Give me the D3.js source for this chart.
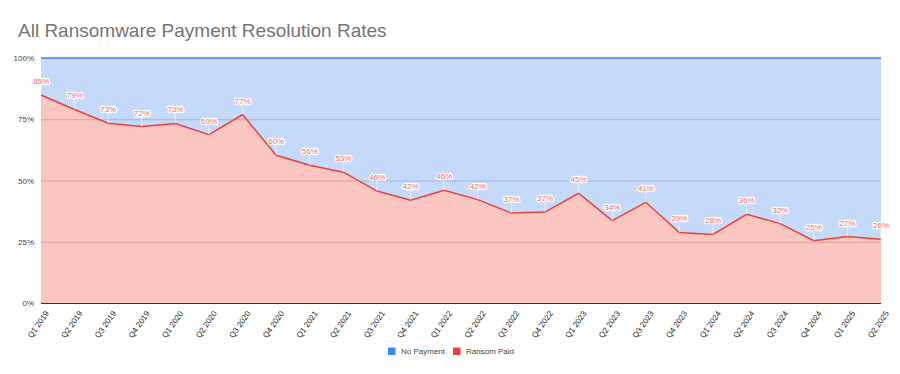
<!DOCTYPE html>
<html>
<head>
<meta charset="utf-8">
<script src="https://cdn.jsdelivr.net/npm/d3@7"></script>
<style>
  body { margin: 0; background: #fff; }
  svg { display: block; font-family: "Liberation Sans", Arial, sans-serif; }
</style>
</head>
<body>
<div id="chart"></div>
<script>
// quarters on the x axis
const quarters = [
  "Q1 2019", "Q2 2019", "Q3 2019", "Q4 2019",
  "Q1 2020", "Q2 2020", "Q3 2020", "Q4 2020",
  "Q1 2021", "Q2 2021", "Q3 2021", "Q4 2021",
  "Q1 2022", "Q2 2022", "Q3 2022", "Q4 2022",
  "Q1 2023", "Q2 2023", "Q3 2023", "Q4 2023",
  "Q1 2024", "Q2 2024", "Q3 2024", "Q4 2024",
  "Q1 2025", "Q2 2025"
];
// share of cases where the ransom was paid (%)
const ransomPaid = [
  84.9, 79.0, 73.4, 72.0, 73.3, 68.7, 76.9, 60.3,
  56.2, 53.4, 45.7, 42.0, 46.0, 42.2, 36.7, 37.1,
  44.8, 33.6, 41.1, 28.8, 28.0, 36.2, 32.4, 25.4,
  27.1, 26.0
];
// no payment = the rest up to 100%
const noPayment = ransomPaid.map(v => 100 - v);
const yTicks = [0, 25, 50, 75, 100];
const seriesNames = ["No Payment", "Ransom Paid"];
const seriesColors = ["#4285f4", "#ea4335"];

const width = 900;
const height = 374;
const marginTop = 58;
const marginRight = 19;
const marginBottom = 71;
const marginLeft = 41;

const svg = d3.select("#chart")
  .append("svg")
  .attr("width", width)
  .attr("height", height)
  .attr("viewBox", [0, 0, width, height]);

svg.append("text")
  .attr("x", 18)
  .attr("y", 37)
  .attr("fill", "#757575")
  .attr("font-size", 19)
  .text("All Ransomware Payment Resolution Rates");

const x = d3.scalePoint(quarters, [marginLeft, width - marginRight]);
const y = d3.scaleLinear([0, 100], [height - marginBottom, marginTop]);

// gridlines go under the translucent areas
svg.append("g")
  .selectAll("line")
  .data(yTicks)
  .join("line")
  .attr("x1", marginLeft)
  .attr("x2", width - marginRight)
  .attr("y1", d => y(d) + 0.5)
  .attr("y2", d => y(d) + 0.5)
  .attr("stroke", d => d === 0 ? "#333" : "#ccc");

const rows = quarters.map((q, i) => ({ q, paid: ransomPaid[i], none: noPayment[i] }));

const paidArea = d3.area()
  .x(d => x(d.q))
  .y0(y(0))
  .y1(d => y(d.paid));

const noneArea = d3.area()
  .x(d => x(d.q))
  .y0(d => y(d.paid))
  .y1(d => y(d.paid + d.none));

svg.append("path")
  .attr("d", noneArea(rows))
  .attr("fill", seriesColors[0])
  .attr("fill-opacity", 0.3);

svg.append("path")
  .attr("d", paidArea(rows))
  .attr("fill", seriesColors[1])
  .attr("fill-opacity", 0.3);

svg.append("path")
  .attr("d", d3.line().x(d => x(d.q)).y(d => y(d.paid + d.none))(rows))
  .attr("fill", "none")
  .attr("stroke", seriesColors[0])
  .attr("stroke-width", 1.5);

svg.append("path")
  .attr("d", d3.line().x(d => x(d.q)).y(d => y(d.paid))(rows))
  .attr("fill", "none")
  .attr("stroke", seriesColors[1])
  .attr("stroke-width", 1.5);

// y axis labels
svg.append("g")
  .attr("transform", `translate(${marginLeft - 4},0)`)
  .call(d3.axisLeft(y).tickValues(yTicks).tickFormat(d => d + "%").tickSize(0))
  .call(g => g.select(".domain").remove())
  .call(g => g.selectAll("text")
    .attr("fill", "#444")
    .attr("font-size", 8)
    .attr("font-family", "Liberation Sans, Arial, sans-serif"));

// x axis labels, slanted
svg.append("g")
  .attr("transform", `translate(0,${height - marginBottom})`)
  .call(d3.axisBottom(x).tickSize(0))
  .call(g => g.select(".domain").remove())
  .call(g => g.selectAll("text")
    .attr("fill", "#222")
    .attr("font-size", 8)
    .attr("font-family", "Liberation Sans, Arial, sans-serif")
    .attr("text-anchor", "end")
    .attr("dy", "0.35em")
    .attr("transform", "translate(3,7) rotate(-55)"));

// data labels with leader lines
const labels = svg.append("g");
labels.selectAll("line")
  .data(rows)
  .join("line")
  .attr("x1", d => x(d.q))
  .attr("x2", d => x(d.q))
  .attr("y1", d => y(d.paid))
  .attr("y2", d => y(d.paid) - 10)
  .attr("stroke", "#fff")
  .attr("stroke-opacity", 0.6);

labels.selectAll("text")
  .data(rows)
  .join("text")
  .attr("x", d => x(d.q))
  .attr("y", d => y(d.paid) - 11)
  .attr("text-anchor", "middle")
  .attr("font-size", 8)
  .attr("fill", "#ef6e63")
  .attr("stroke", "#fff")
  .attr("stroke-width", 2.5)
  .attr("stroke-linejoin", "round")
  .attr("paint-order", "stroke")
  .text(d => Math.round(d.paid) + "%");

// legend
const legend = svg.append("g").attr("transform", `translate(0,${351})`);
const legendX = [388, 453];
seriesNames.forEach((name, i) => {
  legend.append("rect")
    .attr("x", legendX[i])
    .attr("y", -3.5)
    .attr("width", 7.5)
    .attr("height", 7.5)
    .attr("fill", seriesColors[i]);
  legend.append("text")
    .attr("x", legendX[i] + 13)
    .attr("y", 3)
    .attr("font-size", 8)
    .attr("fill", "#444")
    .text(name);
});
</script>
</body>
</html>
